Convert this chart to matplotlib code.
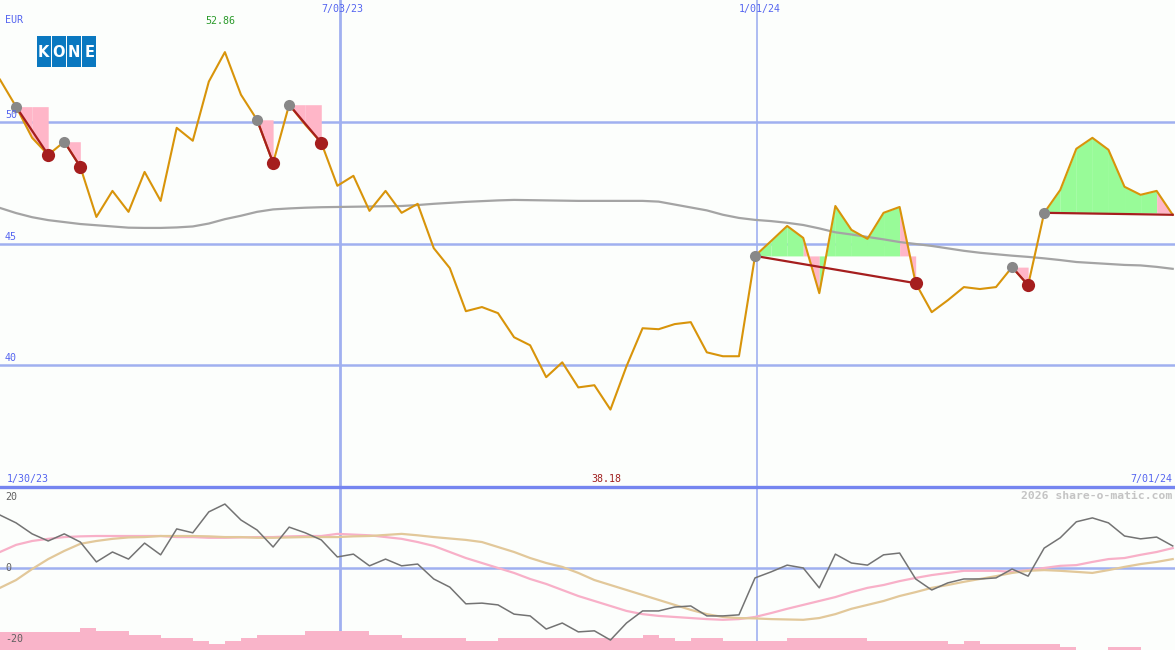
import numpy as np
import matplotlib
matplotlib.use('Agg')
import matplotlib.pyplot as plt
from matplotlib.patches import Rectangle

# weekly closes, KONE (EUR), first week ending 2023-02-05
start = np.datetime64('2023-02-05')
price = [51.73, 50.62, 49.34, 48.64, 49.18, 48.15, 46.09, 47.16, 46.30, 47.94,
         46.75, 49.75, 49.22, 51.65, 52.86, 51.11, 50.08, 48.31, 50.70, 49.88,
         49.14, 47.37, 47.78, 46.34, 47.16, 46.26, 46.63, 44.81, 43.99, 42.22,
         42.39, 42.14, 41.15, 40.82, 39.51, 40.12, 39.09, 39.18, 38.18, 39.96,
         41.52, 41.48, 41.69, 41.77, 40.53, 40.37, 40.37, 44.49, 45.10, 45.72,
         45.23, 42.96, 46.54, 45.56, 45.19, 46.26, 46.50, 43.37, 42.18, 42.67,
         43.21, 43.13, 43.21, 44.03, 43.29, 46.26, 47.20, 48.89, 49.34, 48.85,
         47.33, 47.00, 47.16, 46.18]

# long moving average (grey line)
ma = [46.46, 46.25, 46.08, 45.96, 45.88, 45.80, 45.75, 45.70, 45.65, 45.64,
      45.64, 45.66, 45.70, 45.82, 46.00, 46.14, 46.30, 46.40, 46.44, 46.47,
      46.49, 46.50, 46.51, 46.52, 46.53, 46.54, 46.58, 46.63, 46.67, 46.71,
      46.74, 46.77, 46.79, 46.78, 46.77, 46.76, 46.75, 46.75, 46.75, 46.75,
      46.75, 46.72, 46.60, 46.48, 46.36, 46.18, 46.05, 45.97, 45.92, 45.85,
      45.76, 45.62, 45.46, 45.37, 45.27, 45.17, 45.06, 44.98, 44.90, 44.80,
      44.70, 44.62, 44.56, 44.50, 44.45, 44.39, 44.32, 44.24, 44.20, 44.16,
      44.12, 44.10, 44.04, 43.96]

# trades: (entry week, exit week); last one still open
trades = [(1, 3), (4, 5), (16, 17), (18, 20), (47, 57), (63, 64), (65, 73)]
open_trade = 6

# lower panel: momentum + two averages of it, and volume bars
mom = [14.9, 12.7, 9.6, 7.6, 9.6, 7.3, 1.7, 4.5, 2.5, 7.0,
       3.7, 11.0, 9.9, 15.8, 18.0, 13.5, 10.7, 5.9, 11.5, 9.9,
       7.9, 3.1, 3.9, 0.6, 2.5, 0.6, 1.1, -3.1, -5.4, -10.1,
       -9.9, -10.4, -13.0, -13.5, -17.2, -15.5, -18.0, -17.7, -20.3, -15.5,
       -12.1, -12.1, -11.0, -10.7, -13.5, -13.5, -13.2, -2.8, -1.1, 0.8,
       0.0, -5.6, 3.9, 1.4, 0.8, 3.7, 4.2, -3.1, -6.2, -4.2,
       -3.1, -3.1, -2.8, -0.3, -2.3, 5.6, 8.5, 13.0, 14.1, 12.7,
       9.0, 8.2, 8.7, 6.2]
sig1 = [4.5, 6.5, 7.6, 8.2, 8.7, 8.9, 9.0, 9.0, 9.0, 9.0,
        9.0, 8.7, 8.7, 8.5, 8.5, 8.6, 8.7, 8.7, 8.9, 9.0,
        9.0, 9.6, 9.4, 9.2, 8.7, 8.2, 7.3, 6.2, 4.5, 2.8,
        1.4, 0.0, -1.4, -3.1, -4.5, -6.2, -7.9, -9.3, -10.7, -12.1,
        -13.0, -13.5, -13.8, -14.1, -14.4, -14.6, -14.4, -13.8, -12.7, -11.5,
        -10.4, -9.3, -8.2, -6.8, -5.6, -4.8, -3.7, -2.8, -2.0, -1.4,
        -0.8, -0.8, -0.8, -1.1, -0.6, 0.0, 0.6, 0.8, 1.7, 2.5,
        2.8, 3.7, 4.5, 5.6]
sig2 = [-5.6, -3.4, -0.3, 2.5, 4.8, 6.8, 7.6, 8.2, 8.6, 8.7,
        9.0, 9.0, 9.0, 8.9, 8.7, 8.7, 8.5, 8.5, 8.6, 8.7,
        8.7, 8.7, 8.9, 9.0, 9.3, 9.6, 9.2, 8.7, 8.3, 7.9,
        7.3, 5.9, 4.5, 2.8, 1.4, 0.3, -1.4, -3.4, -4.8, -6.2,
        -7.6, -9.0, -10.4, -11.8, -13.0, -13.8, -14.1, -14.2, -14.4, -14.5,
        -14.6, -14.1, -13.0, -11.5, -10.4, -9.3, -7.9, -6.8, -5.6, -4.8,
        -3.9, -3.1, -2.3, -1.4, -0.8, -0.6, -0.8, -1.1, -1.4, -0.6,
        0.3, 1.1, 1.7, 2.5]
vol = [5.1, 5.1, 5.1, 5.1, 5.1, 6.2, 5.4, 5.4, 4.2, 4.2,
       3.4, 3.4, 2.5, 1.7, 2.5, 3.4, 4.2, 4.2, 4.2, 5.4,
       5.4, 5.4, 5.4, 4.2, 4.2, 3.4, 3.4, 3.4, 3.4, 2.5,
       2.5, 3.4, 3.4, 3.4, 3.4, 3.4, 3.4, 3.4, 3.4, 3.4,
       4.2, 3.4, 2.5, 3.4, 3.4, 2.5, 2.5, 2.5, 2.5, 3.4,
       3.4, 3.4, 3.4, 3.4, 2.5, 2.5, 2.5, 2.5, 2.5, 1.7,
       2.5, 1.7, 1.7, 1.7, 1.7, 1.7, 0.8, 0.0, 0.0, 0.8,
       0.8, 0.0, 0.0]

price_grid = [50, 45, 40]
vlines = ['2023-07-03', '2024-01-01']
vline_labels = ['7/03/23', '1/01/24']
end_date = np.datetime64('2024-07-01')

# colours
bg = '#FCFEFC'
grid_c = '#A0B0F0'
text_c = '#5565F0'
price_c = '#D8940A'
green = '#98FB98'
pink = '#FFB6C8'
trade_c = '#A51E1E'

W, H = 1175, 650
dates = start + np.arange(len(price)) * np.timedelta64(7, 'D')
price = np.array(price)

fig = plt.figure(figsize=(W / 100, H / 100), dpi=100, facecolor=bg)
ax = fig.add_axes([0, 163 / H, 1, 487 / H], facecolor=bg)
ax2 = fig.add_axes([0, 0, 1, 163 / H], facecolor=bg)
ax.set_zorder(3)

for a in (ax, ax2):
    a.set_xlim(dates[0], end_date)
    a.set_xticks([])
    a.set_yticks([])
    for s in a.spines.values():
        s.set_visible(False)
    for d, lw in zip(vlines, [2.0, 1.2]):
        a.axvline(np.datetime64(d), color=grid_c, lw=lw, zorder=1)

ax.set_ylim(35, 55)
ax2.set_ylim(-23.1, 22.8)

# ---- upper panel ----
for g in price_grid:
    ax.axhline(g, color=grid_c, lw=1.8, zorder=1)
ax.axhline(35, color='#7585F0', lw=2.4, zorder=6, clip_on=False)

# fills between price and entry level, one segment at a time
for k, (a_i, b_i) in enumerate(trades):
    entry = price[a_i]
    for j in range(a_i, b_i):
        c = green if price[j + 1] > entry else pink
        ax.fill_between(dates[j:j + 2], price[j:j + 2], entry, color=c, lw=0, zorder=2)

ax.plot(dates, ma, color='#A4A4A4', lw=1.6, zorder=3)
ax.plot(dates, price, color=price_c, lw=1.5, zorder=4)

for k, (a_i, b_i) in enumerate(trades):
    ax.plot([dates[a_i], dates[b_i]], [price[a_i], price[b_i]], color=trade_c, lw=1.6, zorder=5)
    ax.plot(dates[a_i], price[a_i], 'o', color='#888888', ms=8, mew=0, zorder=6)
    if k != open_trade:
        ax.plot(dates[b_i], price[b_i], 'o', color=trade_c, ms=9.5, mew=0, zorder=6)

yt = ax.get_yaxis_transform()
for g in price_grid:
    ax.text(5 / W, g + 0.08, str(g), transform=yt, color=text_c, fontsize=7.2,
            family='DejaVu Sans Mono', va='bottom', ha='left', zorder=7)

xt = ax.get_xaxis_transform()
for d, lab in zip(vlines, vline_labels):
    ax.text(np.datetime64(d) + np.timedelta64(1, 'D'), 1 - 9 / 487, lab, transform=xt,
            color=text_c, fontsize=7.2, family='DejaVu Sans Mono', ha='center', va='center')

hi = int(np.argmax(price))
lo = int(np.argmin(price))
ax.text(dates[hi] - np.timedelta64(2, 'D'), 1 - 21 / 487, f'{price[hi]:.2f}', transform=xt,
        color='#2A9A2A', fontsize=7.2, family='DejaVu Sans Mono', ha='center', va='center')
ax.text(dates[lo] - np.timedelta64(2, 'D'), 8 / 487, f'{price[lo]:.2f}', transform=xt,
        color='#A02020', fontsize=7.2, family='DejaVu Sans Mono', ha='center', va='center')
ax.text(7 / W, 8 / 487, '1/30/23', transform=ax.transAxes, color=text_c, fontsize=7.2,
        family='DejaVu Sans Mono', ha='left', va='center')
ax.text(1 - 3 / W, 8 / 487, '7/01/24', transform=ax.transAxes, color=text_c, fontsize=7.2,
        family='DejaVu Sans Mono', ha='right', va='center')
ax.text(5 / W, 1 - 20 / 487, 'EUR', transform=ax.transAxes, color=text_c, fontsize=7.2,
        family='DejaVu Sans Mono', ha='left', va='center')

# KONE logo
logo = fig.add_axes([36 / W, 1 - 67 / H, 61 / W, 31 / H])
logo.set_zorder(4)
logo.set_xlim(0, 4)
logo.set_ylim(0, 1)
logo.axis('off')
for i, ch in enumerate('KONE'):
    logo.add_patch(Rectangle((i + 0.04, 0), 0.92, 1, color='#0A78C0', lw=0))
    logo.text(i + 0.5, 0.47, ch, color='white', fontsize=10.5, fontweight='bold',
              family='DejaVu Sans', ha='center', va='center')

# ---- lower panel ----
ax2.bar(dates[:-1], vol, width=7, bottom=-23.1, align='edge', color='#F9B4C9', lw=0, zorder=1)
ax2.axhline(0, color=grid_c, lw=1.8, zorder=2)
ax2.plot(dates, sig1, color='#F8B0C8', lw=1.6, zorder=3)
ax2.plot(dates, sig2, color='#E2C89A', lw=1.6, zorder=3)
ax2.plot(dates, mom, color='#737373', lw=1.1, zorder=4)

yt2 = ax2.get_yaxis_transform()
for v in [20, 0, -20]:
    ax2.text(5 / W, v, str(v), transform=yt2, color='#606060', fontsize=7.2,
             family='DejaVu Sans Mono', ha='left', va='center')
ax2.text(1 - 3 / W, 1 - 9 / 163, '2026 share-o-matic.com', transform=ax2.transAxes,
         color='#C4C4C4', fontsize=8.2, fontweight='bold', family='DejaVu Sans Mono',
         ha='right', va='center')

fig.savefig('out.png', dpi=100, facecolor=bg)
